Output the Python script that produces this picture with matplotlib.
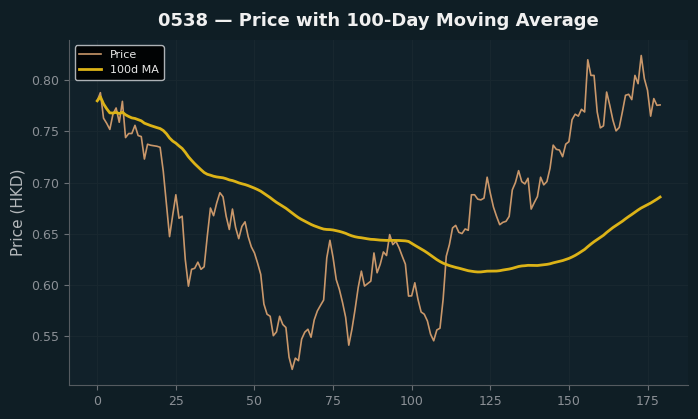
import numpy as np
import pandas as pd
from matplotlib import pyplot as plt

# prix de clôture (jour 0 à 179)
prix = [
  0.780, 0.788, 0.763, 0.758, 0.752, 0.767, 0.773, 0.759, 0.7795, 0.744,
  0.748, 0.748, 0.756, 0.746, 0.745, 0.723, 0.7375, 0.7365, 0.736, 0.7355,
  0.7345, 0.711, 0.679, 0.647, 0.668, 0.688, 0.665, 0.667, 0.6245, 0.5985,
  0.615, 0.616, 0.622, 0.615, 0.6175, 0.6475, 0.675, 0.6675, 0.680, 0.690,
  0.686, 0.667, 0.654, 0.674, 0.656, 0.645, 0.657, 0.6615, 0.647, 0.637,
  0.631, 0.621, 0.610, 0.581, 0.571, 0.569, 0.550, 0.5537, 0.569, 0.561,
  0.558, 0.529, 0.517, 0.528, 0.5255, 0.5466, 0.5534, 0.5563, 0.5485, 0.5654,
  0.5742, 0.5797, 0.5849, 0.6262, 0.6434, 0.6265, 0.605, 0.5953, 0.5826, 0.568,
  0.5407, 0.5563, 0.5758, 0.5973, 0.6132, 0.5986, 0.601, 0.6034, 0.631, 0.6116,
  0.620, 0.632, 0.6285, 0.649, 0.6392, 0.6424, 0.636, 0.6278, 0.620, 0.5888,
  0.589, 0.6018, 0.5856, 0.5732, 0.571, 0.5644, 0.5515, 0.545, 0.5556, 0.5573,
  0.5856, 0.6278, 0.6392, 0.6555, 0.658, 0.6512, 0.650, 0.6545, 0.6532, 0.688,
  0.688, 0.6837, 0.683, 0.6847, 0.7052, 0.6896, 0.676, 0.6668, 0.6587, 0.661,
  0.662, 0.6668, 0.6928, 0.700, 0.7116, 0.7009, 0.6986, 0.7042, 0.674, 0.6804,
  0.6863, 0.7052, 0.6977, 0.7009, 0.714, 0.7366, 0.7325, 0.7318, 0.7253, 0.7376,
  0.740, 0.7615, 0.7669, 0.765, 0.7717, 0.7691, 0.8202, 0.8049, 0.8049, 0.7691,
  0.7535, 0.7555, 0.7886, 0.7756, 0.761, 0.7506, 0.7539, 0.7691, 0.7854, 0.7864,
  0.7812, 0.8049, 0.7968, 0.8244, 0.8017, 0.7903, 0.765, 0.7822, 0.7756, 0.776,
]
jours = np.arange(len(prix))
# moyenne mobile 100 jours (min_periods=1 comme sur l'original)
mm100 = pd.Series(prix).rolling(100, min_periods=1).mean()

fond = '#0f1e25'
fig = plt.figure(figsize=(6.98, 4.19), dpi=100, facecolor=fond)
ax = fig.add_subplot(111)
ax.set_facecolor('#11212a')
fig.subplots_adjust(left=0.099, right=0.986, top=0.905, bottom=0.081)

ax.plot(jours, prix, color='#c9976a', lw=1.2, label='Price')
ax.plot(jours, mm100, color='#dcb317', lw=2, label='100d MA')

ax.set_title('0538 — Price with 100-Day Moving Average', color='#f0f0f0',
             fontsize=13, fontweight='bold', pad=10)
ax.set_ylabel('Price (HKD)', color='#b4b8bb', fontsize=11)
ax.set_yticks([0.55, 0.60, 0.65, 0.70, 0.75, 0.80])
ax.set_xticks([0, 25, 50, 75, 100, 125, 150, 175])
ax.tick_params(colors='#6b7176', labelcolor='#8b9096', labelsize=9)
ax.grid(True, color='#18272f', lw=0.8)
for s in ['top', 'right']:
  ax.spines[s].set_visible(False)
for s in ['left', 'bottom']:
  ax.spines[s].set_color('#555b60')

leg = ax.legend(loc='upper left', fontsize=8, facecolor='#000000',
                edgecolor='#c0c4c8', framealpha=0.9, labelcolor='#e8e8e8')

fig.savefig('out.png', facecolor=fond)
